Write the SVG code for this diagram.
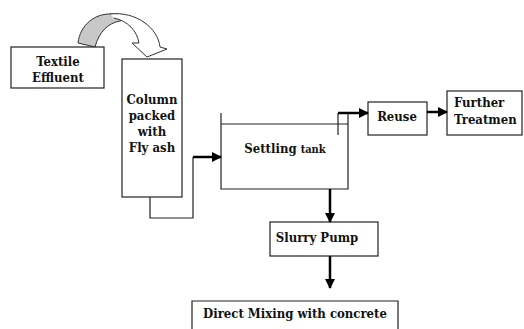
<svg xmlns="http://www.w3.org/2000/svg" width="524" height="329" viewBox="0 0 524 329">
<defs>
<style>
.box{fill:#fff;stroke:#222;stroke-width:1.2}
.ln{fill:none;stroke:#222;stroke-width:1.2}
.th{fill:none;stroke:#000;stroke-width:2.5}
text{font-family:'DejaVu Serif Condensed','DejaVu Serif',serif;font-stretch:condensed;font-weight:bold;font-size:13px;fill:#111}
</style>
<marker id="ah" markerWidth="10" markerHeight="10" refX="9" refY="5" orient="auto" markerUnits="userSpaceOnUse">
<path d="M0,0 L10,5 L0,10 Z" fill="#000"/>
</marker>
</defs>
<rect width="524" height="329" fill="#fff"/>
<g id="curved-arrow">
<path d="M78,43 C80,25 95,13 112,14 C120,14 126,16 128,18 L120,21 C108,23 99,32 95,47 Z" fill="#c8c8c8" stroke="#333" stroke-width="1"/>
<path d="M110,14 C136,11 158,28 160,47 L167,49 L147,57 L132,43 L139,43 C137,31 128,21 114,18" fill="#fff" stroke="#333" stroke-width="1"/>
</g>
<g id="textile">
<rect class="box" x="11" y="47" width="93" height="41"/>
<text x="58" y="66" text-anchor="middle" font-size="13.5">Textile</text>
<text x="58" y="82" text-anchor="middle" font-size="13.5">Effluent</text>
</g>
<g id="column">
<rect class="box" x="122" y="59" width="60" height="138"/>
<text x="152" y="104" text-anchor="middle">Column</text>
<text x="152" y="120" text-anchor="middle">packed</text>
<text x="152" y="136" text-anchor="middle">with</text>
<text x="152" y="152" text-anchor="middle">Fly ash</text>
</g>
<g id="settling">
<path class="ln" d="M221,113 V189 H348 V113 M221,124 H348 M338,113 V135"/>
<text x="285" y="153" text-anchor="middle">Settling <tspan font-size="11">tank</tspan></text>
</g>
<g id="reuse">
<rect class="box" x="368" y="102" width="59" height="33"/>
<text x="397" y="121" text-anchor="middle">Reuse</text>
</g>
<g id="further">
<rect class="box" x="447" y="91" width="75" height="44"/>
<text x="454" y="107" font-size="12">Further</text>
<text x="454" y="124" font-size="12">Treatmen</text>
</g>
<g id="slurry">
<rect class="box" x="270" y="222" width="108" height="34"/>
<text x="317" y="242" text-anchor="middle" font-size="12.5">Slurry Pump</text>
</g>
<g id="mixing">
<path class="ln" d="M192,329 V301 H398 V329"/>
<text x="295" y="318" text-anchor="middle">Direct Mixing with concrete</text>
</g>
<g id="connectors">
<path class="ln" d="M150,197 V218 H193 V157"/>
<path class="th" d="M193,157 H221" marker-end="url(#ah)"/>
<path class="th" d="M338,113 H368" marker-end="url(#ah)"/>
<path class="th" d="M427,112 H447" marker-end="url(#ah)"/>
<path class="th" d="M330,189 V222" marker-end="url(#ah)"/>
<path class="th" d="M330,256 V288" marker-end="url(#ah)"/>
</g>
</svg>
